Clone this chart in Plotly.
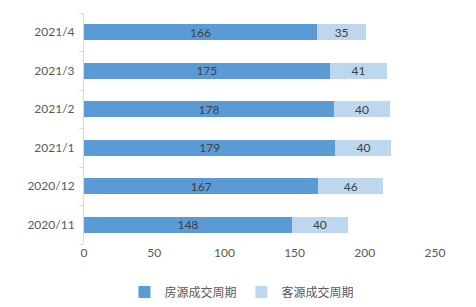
import plotly.graph_objects as go

categories = ["2020/11", "2020/12", "2021/1", "2021/2", "2021/3", "2021/4"]
house_cycle = [148, 167, 179, 178, 175, 166]
client_cycle = [40, 46, 40, 40, 41, 35]
series_names = ["房源成交周期", "客源成交周期"]
x_ticks = [0, 50, 100, 150, 200, 250]

font_family = "Lato, 'Noto Sans CJK SC', sans-serif"

fig = go.Figure()
fig.add_trace(go.Bar(
    y=categories, x=house_cycle, orientation="h", name=series_names[0],
    marker=dict(color="#5B9BD5", line=dict(width=0)),
    text=house_cycle, textposition="inside", insidetextanchor="middle", textangle=0,
    textfont=dict(color="#404040", size=12, family=font_family),
))
fig.add_trace(go.Bar(
    y=categories, x=client_cycle, orientation="h", name=series_names[1],
    marker=dict(color="#BDD7EE", line=dict(width=0)),
    text=client_cycle, textposition="inside", insidetextanchor="middle", textangle=0,
    textfont=dict(color="#404040", size=12, family=font_family),
))

fig.update_layout(
    barmode="stack",
    bargap=0.59,
    width=476, height=307,
    margin=dict(l=84, r=41, t=13, b=63, autoexpand=False),
    paper_bgcolor="white", plot_bgcolor="white",
    font=dict(family=font_family, size=12, color="#595959"),
    uniformtext=dict(minsize=8, mode="show"),
    xaxis=dict(
        range=[0, 250], tickvals=x_ticks, showgrid=False, zeroline=False,
        showline=False, ticks="", tickfont=dict(size=12, color="#595959"),
        fixedrange=True,
    ),
    yaxis=dict(
        categoryorder="array", categoryarray=categories,
        showline=True, linecolor="#D9D9D9", linewidth=1,
        ticks="outside", tickson="boundaries", ticklen=4, tickcolor="#D9D9D9",
        showgrid=False, tickfont=dict(size=12, color="#595959"),
        ticklabelstandoff=6,
    ),
    legend=dict(
        orientation="h", x=0.45, xanchor="center", y=-0.145, yanchor="top",
        font=dict(size=12, color="#595959", family="'Noto Sans CJK SC', sans-serif"),
        itemwidth=30, traceorder="normal",
    ),
    showlegend=True,
)

fig.write_html("out.html")
